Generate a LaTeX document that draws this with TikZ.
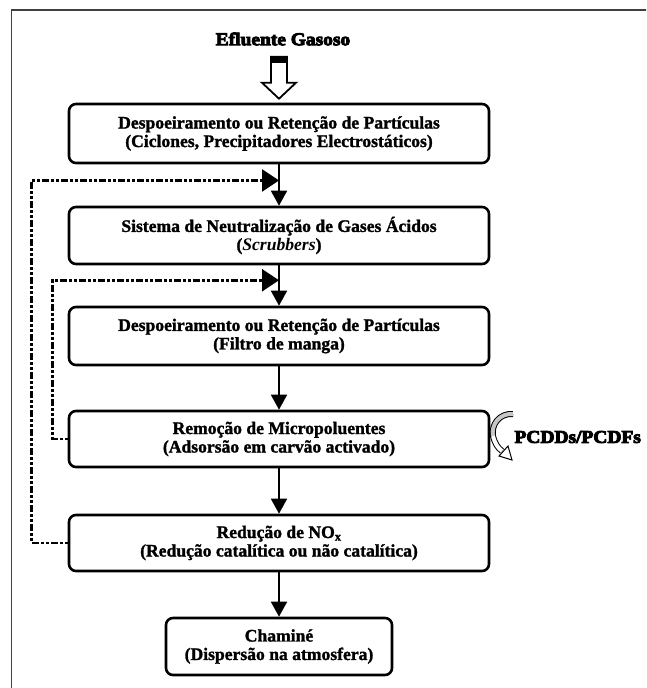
\documentclass[tikz,border=0pt]{standalone}
\usepackage{fontspec}
\setmainfont{Liberation Serif}[BoldFeatures={FakeBold=1.5}]
\newfontfamily\heavyfont{Liberation Serif Bold}[FakeStretch=1.08, FakeBold=5]
\usetikzlibrary{arrows.meta,calc}

\begin{document}
\begin{tikzpicture}[x=1pt,y=-1pt,
    etapa/.style={draw, line width=2.6pt, rounded corners=7pt, align=center,
        minimum width=420pt, minimum height=57pt, inner sep=0pt,
        font=\fontsize{17.6}{18.5}\selectfont\bfseries},
    fluxo/.style={line width=1.8pt, -{Triangle[length=15pt,width=16pt]}},
    reciclo/.style={line width=2.6pt,
        dash pattern=on 3pt off 2pt on 3pt off 2pt on 7pt off 2pt,
        -{Triangle[length=17pt,width=22pt]}},
    titulo/.style={font=\heavyfont\fontsize{18}{20}\selectfont}]
    \useasboundingbox (0,0) rectangle (646,688);
    \clip (0,0) rectangle (646,688);
    % moldura
    \draw[line width=1.8pt, black!75] (11.5,10) rectangle (700,750);

    % etapas de tratamento
    \node[titulo] (efl) at (283,39) {Efluente Gasoso};
    \node[etapa, minimum height=59pt] (b1) at (279,133.5) {Despoeiramento ou Retenção de Partículas\\(Ciclones, Precipitadores Electrostáticos)};
    \node[etapa] (b2) at (279,235.5) {Sistema de Neutralização de Gases Ácidos\\(\textit{Scrubbers})};
    \node[etapa, minimum height=58pt] (b3) at (279,336) {Despoeiramento ou Retenção de Partículas\\(Filtro de manga)};
    \node[etapa, minimum height=56pt] (b4) at (279,439) {Remoção de Micropoluentes\\(Adsorsão em carvão activado)};
    \node[etapa, minimum height=56pt] (b5) at (279,543) {Redução de NO\textsubscript{x}\\(Redução catalítica ou não catalítica)};
    \node[etapa, minimum width=226pt] (b6) at (279,646.5) {Chaminé\\(Dispersão na atmosfera)};
    \node[titulo, anchor=west] (pcdd) at (511,437) {PCDDs/PCDFs};

    % seta de entrada
    \coordinate (pt) at ($(b1.north)+(0,-4)$);
    \draw[line width=1.8pt, fill=white, line join=miter] (pt) -- ++(-17,-16) -- ++(9,0) -- ++(0,-26)
        -- ++(16,0) -- ++(0,26) -- ++(9,0) -- cycle;
    \fill ($(pt)+(-8,-42)$) rectangle ++(16,6);

    % fluxo principal
    \draw[fluxo] (b1) -- (b2);
    \draw[fluxo] (b2) -- (b3);
    \draw[fluxo] (b3) -- (b4);
    \draw[fluxo] (b4) -- (b5);
    \draw[fluxo] (b5) -- (b6);

    % recirculacao
    \coordinate (m1) at ($(b1.south)!0.39!(b2.north)$);
    \coordinate (m2) at ($(b2.south)!0.37!(b3.north)$);
    \draw[reciclo] (b5.west) -- ++(-36,0) |- (m1);
    \draw[reciclo] (b4.west) -- ++(-15,0) |- (m2);

    % saida de PCDDs/PCDFs
    \draw[line width=6pt] (513,414) .. controls (499,413) and (491,425) .. (493,436)
        .. controls (495,444) and (498,448) .. (502,451);
    \draw[line width=4pt, gray!45] (513,414) .. controls (499,413) and (491,425) .. (493,436);
    \draw[line width=4pt, white] (493,436) .. controls (495,444) and (498,448) .. (502,451);
    \filldraw[fill=white, line width=1pt] (499,456) -- (508,446) -- (512,460) -- cycle;
\end{tikzpicture}
\end{document}
